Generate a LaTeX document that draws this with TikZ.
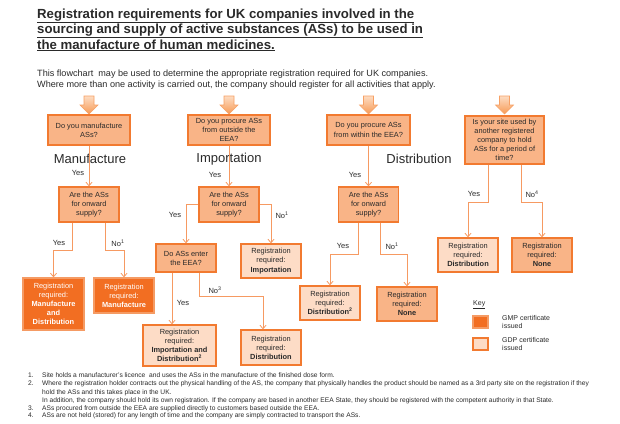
\documentclass[tikz,border=0pt]{standalone}
\usepackage{fontspec}
\setmainfont{Liberation Sans}
\usetikzlibrary{arrows.meta}
\definecolor{qfill}{HTML}{F9B487}
\definecolor{lfill}{HTML}{FDDCC6}
\definecolor{dfill}{HTML}{F26E22}
\definecolor{bord}{HTML}{F27A30}
\definecolor{conn}{HTML}{F69A62}
\definecolor{txt}{HTML}{2A2A2A}
\definecolor{arrT}{HTML}{FDDCC2}
\definecolor{arrB}{HTML}{F79A55}
\definecolor{arrD}{HTML}{F7A064}
\begin{document}
\begin{tikzpicture}[x=1pt,y=-1pt,
  box/.style={draw=bord, line width=1.3pt, align=center, inner sep=0.5pt, font=\fontsize{7.4}{9.1}\selectfont, text=txt},
  sz/.style 2 args={minimum width=#1, minimum height=#2},
  qbox/.style={box, fill=qfill},
  lbox/.style={box, fill=lfill},
  dbox/.style={box, fill=dfill, text=white, draw=bord!75!white},
  lk/.style={draw=conn, line width=0.8pt, -{Straight Barb[length=3.5pt,width=6pt]}},
  lab/.style={font=\fontsize{7.5}{9}\selectfont, text=txt, inner sep=0},
  sect/.style={font=\fontsize{13}{15}\selectfont, text=txt, inner sep=0},
  tline/.style={anchor=base west, inner sep=0, font=\fontsize{13.2}{15.5}\bfseries\selectfont, text=txt},
  iline/.style={anchor=base west, inner sep=0, font=\fontsize{9.1}{11}\selectfont, text=txt},
  fline/.style={anchor=base west, inner sep=0, font=\fontsize{6.65}{8}\selectfont, text=txt},
]
\useasboundingbox (0,0) rectangle (620,423);
\fill[white] (0,0) rectangle (620,423);

% title
\node[tline] (t1) at (37,18) {\underline{Registration requirements for UK companies involved in the}};
\node[tline] (t2) at (37,33.5) {\underline{sourcing and supply of active substances (ASs) to be used in}};
\node[tline] (t3) at (37,49) {\underline{the manufacture of human medicines.}};

% intro
\node[iline] (i1) at (37,76.5) {This flowchart\ \ may be used to determine the appropriate registration required for UK companies.};
\node[iline] (i2) at (37,87.5) {Where more than one activity is carried out, the company should register for all activities that apply.};

% block arrows
\foreach \x in {89,229,368.5,504.5} {
  \shade[top color=arrT, bottom color=arrB, draw=arrD, line width=0.6pt]
    (\x-5,96) -- (\x+5,96) -- (\x+5,105) -- (\x+9,105) -- (\x,114) -- (\x-9,105) -- (\x-5,105) -- cycle;
}

% boxes
\node[qbox, sz={82pt}{30pt}] (q1) at (89,130) {Do you manufacture\\ASs?};
\node[qbox, sz={60pt}{35pt}] (q2) at (89,204.5) {Are the ASs\\for onward\\supply?};
\node[dbox, sz={61pt}{52pt}] (r1) at (53.5,304) {Registration\\required:\\\textbf{Manufacture}\\\textbf{and}\\\textbf{Distribution}};
\node[dbox, sz={60pt}{35pt}] (r2) at (124,295.5) {Registration\\required:\\\textbf{Manufacture}};

\node[qbox, sz={82pt}{30pt}] (q3) at (229,130) {Do you procure ASs\\from outside the\\EEA?};
\node[qbox, sz={60pt}{35pt}] (q4) at (229,204.5) {Are the ASs\\for onward\\supply?};
\node[qbox, sz={60pt}{28pt}] (q5) at (186,258) {Do ASs enter\\the EEA?};
\node[lbox, sz={60pt}{34pt}] (r3) at (271,261) {Registration\\required:\\\textbf{Importation}};
\node[lbox, sz={73pt}{41pt}] (r4) at (179.5,345.5) {Registration\\required:\\\textbf{Importation and}\\\textbf{Distribution\textsuperscript{2}}};
\node[lbox, sz={60pt}{35pt}] (r5) at (271,347.5) {Registration\\required:\\\textbf{Distribution}};

\node[qbox, sz={83pt}{30pt}] (q6) at (368.5,130) {Do you procure ASs\\from within the EEA?};
\node[qbox, sz={60pt}{35pt}] (q7) at (368.5,204.5) {Are the ASs\\for onward\\supply?};
\node[lbox, sz={60pt}{34pt}] (r6) at (330,303) {Registration\\required:\\\textbf{Distribution\textsuperscript{2}}};
\node[qbox, sz={60pt}{34pt}] (r7) at (407,304) {Registration\\required:\\\textbf{None}};

\node[qbox, sz={79pt}{48pt}] (q8) at (504.5,140) {Is your site used by\\another registered\\company to hold\\ASs for a period of\\time?};
\node[lbox, sz={60pt}{34pt}] (r8) at (468,255) {Registration\\required:\\\textbf{Distribution}};
\node[qbox, sz={60pt}{34pt}] (r9) at (542,255) {Registration\\required:\\\textbf{None}};

% section labels
\node[sect] (s1) at (90,159) {Manufacture};
\node[sect] (s2) at (229,159) {Importation};
\node[sect] (s3) at (419,159) {Distribution};

% connectors
\draw[lk] (q1.south) -- (q2.north);
\draw[lk] ([xshift=-17pt]q2.south) -- ++(0,28) -| (r1.north);
\draw[lk] ([xshift=16pt]q2.south) -- ++(0,28) -| (r2.north);

\draw[lk] (q3.south) -- (q4.north);
\draw[lk] (q4.west) -| (q5.north);
\draw[lk] (q4.east) -| (r3.north);
\draw[lk] ([xshift=-14pt]q5.south) -- ([xshift=-14pt]q5.south |- r4.north);
\draw[lk] ([xshift=13pt]q5.south) -- ++(0,24) -| ([xshift=-8pt]r5.north);

\draw[lk] (q6.south) -- (q7.north);
\draw[lk] ([xshift=-10.5pt]q7.south) -- ++(0,32) -| (r6.north);
\draw[lk] ([xshift=11.5pt]q7.south) -- ++(0,32) -| (r7.north);

\draw[lk] ([xshift=-16.5pt]q8.south) -- ++(0,38) -| (r8.north);
\draw[lk] ([xshift=16.5pt]q8.south) -- ++(0,38) -| (r9.north);

% connector labels
\node[lab] (y1) at (78,173) {Yes};
\node[lab] (y2) at (59,243) {Yes};
\node[lab] (n2) at (118,243) {No\textsuperscript{1}};
\node[lab] (y3) at (215,175) {Yes};
\node[lab] (y4) at (175,215) {Yes};
\node[lab] (n4) at (282,215) {No\textsuperscript{1}};
\node[lab] (y5) at (183,303) {Yes};
\node[lab] (n5) at (215,290) {No\textsuperscript{3}};
\node[lab] (y6) at (355,175) {Yes};
\node[lab] (y7) at (343,246) {Yes};
\node[lab] (n7) at (392,246) {No\textsuperscript{1}};
\node[lab] (y8) at (474,194) {Yes};
\node[lab] (n8) at (532,194) {No\textsuperscript{4}};

% key
\node[anchor=west, inner sep=0, font=\fontsize{7}{8.5}\selectfont, text=txt] (key) at (473,305) {\underline{Key}};
\node[dbox, sz={15pt}{12pt}, inner sep=0] (kg) at (480.5,322) {};
\node[lbox, sz={15pt}{12pt}, inner sep=0] (kd) at (480.5,344) {};
\node[anchor=west, align=left, inner sep=0, font=\fontsize{7}{8.5}\selectfont, text=txt] (kgt) at (502,322) {GMP certificate\\issued};
\node[anchor=west, align=left, inner sep=0, font=\fontsize{7}{8.5}\selectfont, text=txt] (kdt) at (502,344) {GDP certificate\\issued};

% footnotes
\node[fline] (f1n) at (28,377) {1.};
\node[fline] (f1) at (42,377) {Site holds a manufacturer's licence\ \ and uses the ASs in the manufacture of the finished dose form.};
\node[fline] (f2n) at (28,385.5) {2.};
\node[fline] (f2) at (42,385.5) {Where the registration holder contracts out the physical handling of the AS, the company that physically handles the product should be named as a 3rd party site on the registration if they};
\node[fline] (f2b) at (42,394) {hold the ASs and this takes place in the UK.};
\node[fline] (f2c) at (42,402) {In addition, the company should hold its own registration. If the company are based in another EEA State, they should be registered with the competent authority in that State.};
\node[fline] (f3n) at (28,410) {3.};
\node[fline] (f3) at (42,410) {ASs procured from outside the EEA are supplied directly to customers based outside the EEA.};
\node[fline] (f4n) at (28,417.5) {4.};
\node[fline] (f4) at (42,417.5) {ASs are not held (stored) for any length of time and the company are simply contracted to transport the ASs.};
\end{tikzpicture}
\end{document}
